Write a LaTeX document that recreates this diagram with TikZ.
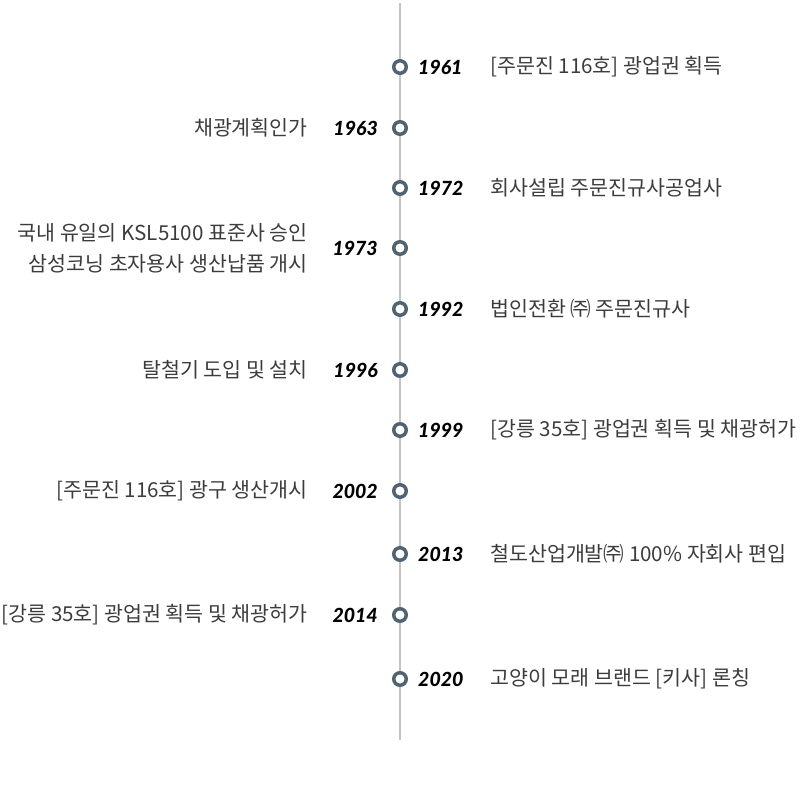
\documentclass[tikz,border=0pt]{standalone}
\usepackage{fontspec}
\setmainfont{Noto Sans CJK KR}
\newfontfamily\yearfont{Lato}[BoldItalicFont={Lato Black Italic}]
\definecolor{dotblue}{RGB}{78,100,116}
\definecolor{axisgray}{RGB}{195,195,195}
\definecolor{textgray}{RGB}{60,60,60}
\tikzset{
	dot/.style={circle, draw=dotblue, fill=white, line width=3.5pt, minimum size=12.5pt, inner sep=0pt},
	year/.style={inner sep=0pt, font=\yearfont\bfseries\itshape\fontsize{19.5}{23}\selectfont, text=black},
	event/.style={inner sep=0pt, font=\fontsize{20.6}{31}\selectfont, text=textgray}
}
\begin{document}
\begin{tikzpicture}[x=1pt, y=-1pt]
				\useasboundingbox (0,0) rectangle (800,800);
				\coordinate (top) at (400,3);
				\coordinate (bottom) at (400,740);
				\draw[axisgray, line width=1.3pt] (top) -- (bottom);

				% right side
				\foreach \yr/\yy/\txt in {1961/67/{[주문진 116호] 광업권 획득}, 1972/188/{회사설립 주문진규사공업사}, 1992/309/{법인전환 ㈜ 주문진규사}, 1999/430/{[강릉 35호] 광업권 획득 및 채광허가}, 2013/554/{철도산업개발㈜ 100\% 자회사 편입}, 2020/679/{고양이 모래 브랜드 [키사] 론칭}}
					{
						\node[dot] (d\yr) at (400,\yy) {};
						\node[year, anchor=west] (y\yr) at (418,\yy) {\yr};
						\node[event, anchor=west] (e\yr) at (490,\yy) {\txt};
					}

				% left side
				\foreach \yr/\yy/\txt in {1963/128/{채광계획인가}, 1973/248/{국내 유일의 KSL5100 표준사 승인\\삼성코닝 초자용사 생산납품 개시}, 1996/370/{탈철기 도입 및 설치}, 2002/491/{[주문진 116호] 광구 생산개시}, 2014/615/{[강릉 35호] 광업권 획득 및 채광허가}}
					{
						\node[dot] (d\yr) at (400,\yy) {};
						\node[year, anchor=east] (y\yr) at (378,\yy) {\yr};
						\node[event, anchor=east, align=right] (e\yr) at (308,\yy) {\txt};
					}
			\end{tikzpicture}
\end{document}
